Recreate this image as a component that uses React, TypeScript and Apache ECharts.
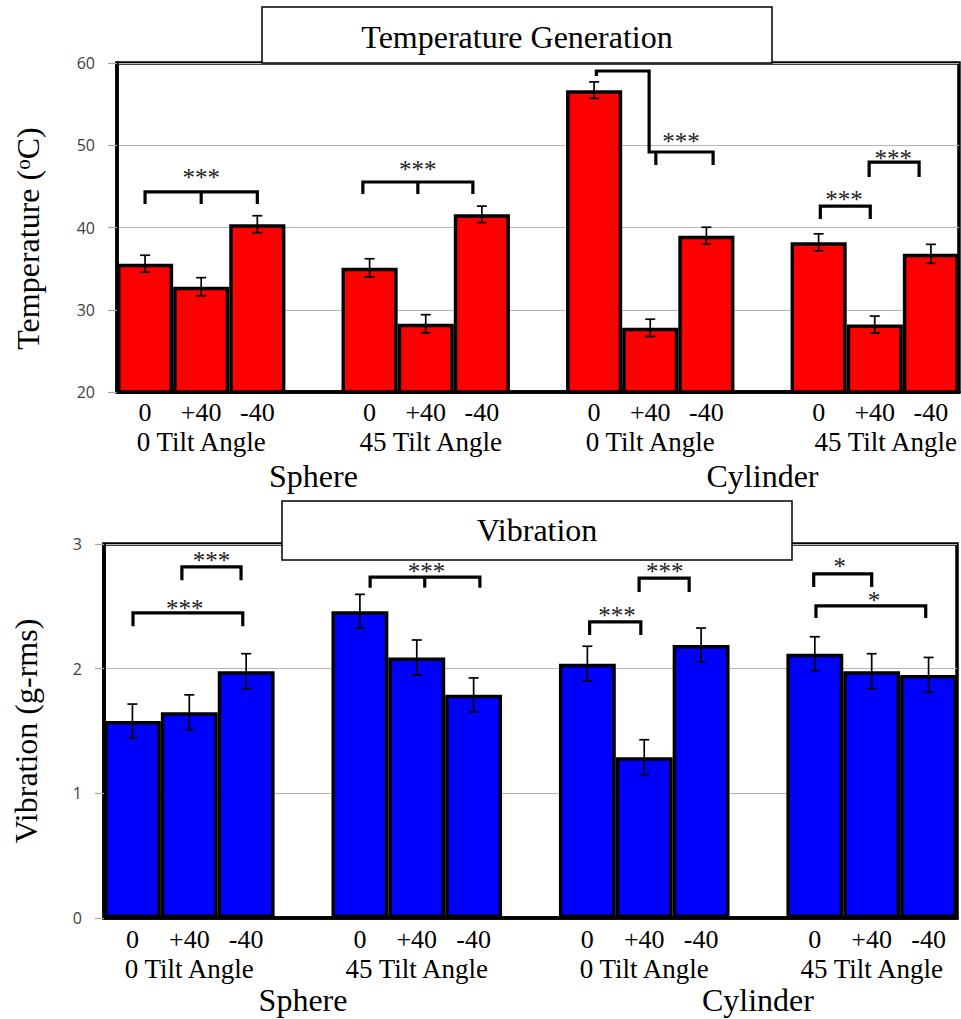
import { useEffect, useRef } from "react";
import * as echarts from "echarts";

// ---- data ----
const angleLabels = ["0", "+40", "-40"];
const tiltLabels = ["0 Tilt Angle", "45 Tilt Angle", "0 Tilt Angle", "45 Tilt Angle"];
const shapeLabels = ["Sphere", "Cylinder"];

const tempMeans = [35.6, 32.8, 40.4, 35.1, 28.3, 41.6, 56.7, 27.8, 39.0, 38.2, 28.2, 36.8];
const tempErrors = [1.03, 1.1, 1.03, 1.1, 1.1, 1.0, 1.0, 1.05, 1.03, 1.03, 1.03, 1.15];
const vibMeans = [1.58, 1.65, 1.98, 2.46, 2.09, 1.79, 2.04, 1.29, 2.19, 2.12, 1.98, 1.95];
const vibErrors = [0.136, 0.14, 0.14, 0.136, 0.14, 0.136, 0.14, 0.14, 0.136, 0.136, 0.14, 0.14];

const tempAxis = { min: 20, max: 60, interval: 10 };
const vibAxis = { min: 0, max: 3, interval: 1 };

// significance brackets: polylines in (category position, value) units; label centre
const tempBrackets = [
  { lines: [[[0, 42.86], [0, 44.32], [2, 44.32], [2, 42.86]], [[1, 44.32], [1, 42.86]]], label: "***", at: [1.0, 46.45] },
  { lines: [[[3.88, 44.07], [3.88, 45.53], [5.84, 45.53], [5.84, 44.07]], [[4.86, 45.53], [4.86, 44.07]]], label: "***", at: [4.86, 47.42] },
  { lines: [[[8.04, 58.42], [8.04, 59.03], [8.98, 59.03], [8.98, 49.18], [10.12, 49.18], [10.12, 47.6]], [[9.1, 49.18], [9.1, 47.6]]], label: "***", at: [9.55, 50.88] },
  { lines: [[[12.03, 41.03], [12.03, 42.61], [12.92, 42.61], [12.92, 41.03]]], label: "***", at: [12.45, 43.77] },
  { lines: [[[12.9, 46.14], [12.9, 47.96], [13.79, 47.96], [13.79, 46.14]]], label: "***", at: [13.33, 48.81] },
];
const vibBrackets = [
  { lines: [[[0.01, 2.34], [0.01, 2.447], [1.94, 2.447], [1.94, 2.34]]], label: "***", at: [0.92, 2.503] },
  { lines: [[[0.87, 2.71], [0.87, 2.816], [1.91, 2.816], [1.91, 2.71]]], label: "***", at: [1.39, 2.888] },
  { lines: [[[4.18, 2.65], [4.18, 2.735], [6.11, 2.735], [6.11, 2.65]], [[5.14, 2.735], [5.14, 2.65]]], label: "***", at: [5.17, 2.8] },
  { lines: [[[8.04, 2.27], [8.04, 2.375], [8.94, 2.375], [8.94, 2.27]]], label: "***", at: [8.52, 2.45] },
  { lines: [[[8.91, 2.615], [8.91, 2.727], [9.79, 2.727], [9.79, 2.615]]], label: "***", at: [9.36, 2.8] },
  { lines: [[[11.98, 2.655], [11.98, 2.76], [13.0, 2.76], [13.0, 2.655]]], label: "*", at: [12.44, 2.84] },
  { lines: [[[12.02, 2.407], [12.02, 2.503], [13.95, 2.503], [13.95, 2.407]]], label: "*", at: [13.04, 2.571] },
];

// ---- layout helpers ----
const N_SLOTS = 15;
const slotOf = (k: number) => Math.floor(k / 3) * 4 + (k % 3);
const SERIF = "Liberation Serif";

function angleCats() {
  const a: string[] = Array(N_SLOTS).fill("");
  for (let k = 0; k < 12; k++) a[slotOf(k)] = angleLabels[k % 3];
  return a;
}
function tiltCats(shift: number[]) {
  const a: any[] = Array(N_SLOTS).fill("");
  tiltLabels.forEach((t, g) => {
    a[g * 4 + 1] = shift[g] ? { value: t, textStyle: { padding: [0, 0, 0, shift[g]] } } : t;
  });
  return a;
}
function shapeCats() {
  const a: string[] = Array(N_SLOTS).fill("");
  a[3] = shapeLabels[0];
  a[11] = shapeLabels[1];
  return a;
}
function barData(means: number[]) {
  const a: any[] = Array(N_SLOTS).fill("-");
  means.forEach((m, k) => (a[slotOf(k)] = m));
  return a;
}

function px(api: any, p: number[]) {
  const r = Math.round(p[0]);
  const c = api.coord([r, p[1]]);
  const bw = api.size([1, 0])[0];
  return [c[0] + (p[0] - r) * bw, c[1]];
}

function errorSeries(means: number[], errs: number[], xi: number, yi: number) {
  return {
    type: "custom",
    xAxisIndex: xi,
    yAxisIndex: yi,
    z: 4,
    data: means.map((m, k) => [slotOf(k), m, errs[k]]),
    encode: { x: 0, y: 1 },
    renderItem: (params: any, api: any) => {
      const x = api.value(0);
      const m = api.value(1);
      const e = api.value(2);
      const hi = api.coord([x, m + e]);
      const lo = api.coord([x, m - e]);
      const cap = 5;
      const st = { stroke: "#000", lineWidth: 1.7 };
      return {
        type: "group",
        children: [
          { type: "line", shape: { x1: hi[0], y1: hi[1], x2: lo[0], y2: lo[1] }, style: st },
          { type: "line", shape: { x1: hi[0] - cap, y1: hi[1], x2: hi[0] + cap, y2: hi[1] }, style: st },
          { type: "line", shape: { x1: lo[0] - cap, y1: lo[1], x2: lo[0] + cap, y2: lo[1] }, style: st },
        ],
      };
    },
  };
}

function bracketSeries(brackets: any[], xi: number, yi: number) {
  return {
    type: "custom",
    xAxisIndex: xi,
    yAxisIndex: yi,
    z: 5,
    data: brackets.map((b) => [Math.round(b.at[0]), b.at[1]]),
    encode: { x: 0, y: 1 },
    renderItem: (params: any, api: any) => {
      const b = brackets[params.dataIndex];
      const children: any[] = b.lines.map((ln: number[][]) => ({
        type: "polyline",
        shape: { points: ln.map((p) => px(api, p)) },
        style: { stroke: "#000", lineWidth: 3.2, fill: null, lineJoin: "miter" },
      }));
      const t = px(api, b.at);
      children.push({
        type: "text",
        style: {
          text: b.label,
          x: t[0],
          y: t[1] + 3,
          align: "center",
          verticalAlign: "middle",
          fontFamily: SERIF,
          fontSize: 25,
          fill: "#222",
        },
      });
      return { type: "group", children };
    },
  };
}

function xAxes(gridIndex: number, tiltShift: number[], m: number[]) {
  const common = {
    type: "category",
    gridIndex,
    position: "bottom",
    axisTick: { show: false },
    splitLine: { show: false },
  };
  return [
    {
      ...common,
      data: angleCats(),
      axisLine: { show: true, onZero: false, lineStyle: { color: "#000", width: 3.5 } },
      axisLabel: { interval: 0, margin: m[0], fontFamily: SERIF, fontSize: 26, color: "#000" },
    },
    {
      ...common,
      data: tiltCats(tiltShift),
      axisLine: { show: false },
      axisLabel: { interval: 0, margin: m[1], fontFamily: SERIF, fontSize: 27, color: "#000" },
    },
    {
      ...common,
      data: shapeCats(),
      axisLine: { show: false },
      axisLabel: { interval: 0, margin: m[2], fontFamily: SERIF, fontSize: 32, color: "#000" },
    },
  ];
}

function yAxis(gridIndex: number, ax: any, name: string, nameGap: number, pad: number[]) {
  return {
    type: "value",
    gridIndex,
    min: ax.min,
    max: ax.max,
    interval: ax.interval,
    axisLine: { show: true, lineStyle: { color: "#000", width: 3.5 } },
    axisTick: { show: true, length: 9, lineStyle: { color: "#a6a6a6", width: 1.2 } },
    axisLabel: { margin: 22, fontFamily: "Open Sans", fontSize: 16, color: "#404040" },
    splitLine: { show: true, lineStyle: { color: "#b5b5b5", width: 1 } },
    name,
    nameLocation: "middle",
    nameRotate: 90,
    nameGap,
    nameTextStyle: {
      fontFamily: SERIF,
      fontSize: 32,
      color: "#000",
      padding: pad,
      rich: { sup: { fontFamily: SERIF, fontSize: 21, color: "#000", verticalAlign: "top" } },
    },
  };
}

function titleBox(x: number, y: number, w: number, h: number, text: string, ty: number) {
  return {
    type: "group",
    z: 100,
    children: [
      { type: "rect", z: 100, shape: { x, y, width: w, height: h }, style: { fill: "#fff", stroke: "#000", lineWidth: 1.5 } },
      {
        type: "text",
        z: 101,
        x: x + w / 2,
        y: ty,
        style: { text, align: "center", verticalAlign: "middle", fontFamily: SERIF, fontSize: 32, fill: "#000" },
      },
    ],
  };
}

export default function App() {
  const ref = useRef<HTMLDivElement>(null);
  useEffect(() => {
    if (!ref.current) return;
    const chart = echarts.init(ref.current, null, { renderer: "svg" });
    const gridStyle = { show: true, borderColor: "#000", borderWidth: 3.5, backgroundColor: "transparent", containLabel: false };
    chart.setOption({
      animation: false,
      grid: [
        { ...gridStyle, left: 117, top: 63, width: 843, height: 329 },
        { ...gridStyle, left: 104, top: 544, width: 853, height: 374 },
      ],
      xAxis: [...xAxes(0, [0, 10, 0, 22], [7, 36, 68]), ...xAxes(1, [0, 0, 0, 0], [8, 37, 66])],
      yAxis: [
        yAxis(0, tempAxis, "Temperature ({sup|o}C)", 73, [0, 22, 0, 0]),
        yAxis(1, vibAxis, "Vibration (g-rms)", 62, [0, 0, 0, 0]),
      ],
      series: [
        {
          type: "bar",
          xAxisIndex: 0,
          yAxisIndex: 0,
          data: barData(tempMeans),
          barCategoryGap: "0%",
          itemStyle: { color: "#ff0000", borderColor: "#000", borderWidth: 3.5 },
        },
        errorSeries(tempMeans, tempErrors, 0, 0),
        bracketSeries(tempBrackets, 0, 0),
        {
          type: "bar",
          xAxisIndex: 3,
          yAxisIndex: 1,
          data: barData(vibMeans),
          barCategoryGap: "0%",
          itemStyle: { color: "#0000ff", borderColor: "#000", borderWidth: 3.5 },
        },
        errorSeries(vibMeans, vibErrors, 3, 1),
        bracketSeries(vibBrackets, 3, 1),
      ],
      graphic: [
        titleBox(262, 7, 510, 56, "Temperature Generation", 37),
        titleBox(282, 501, 510, 59, "Vibration", 530),
      ],
    });
    return () => chart.dispose();
  }, []);
  return <div ref={ref} style={{ position: "absolute", left: 0, top: 0, width: 961, height: 1019 }} />;
}
